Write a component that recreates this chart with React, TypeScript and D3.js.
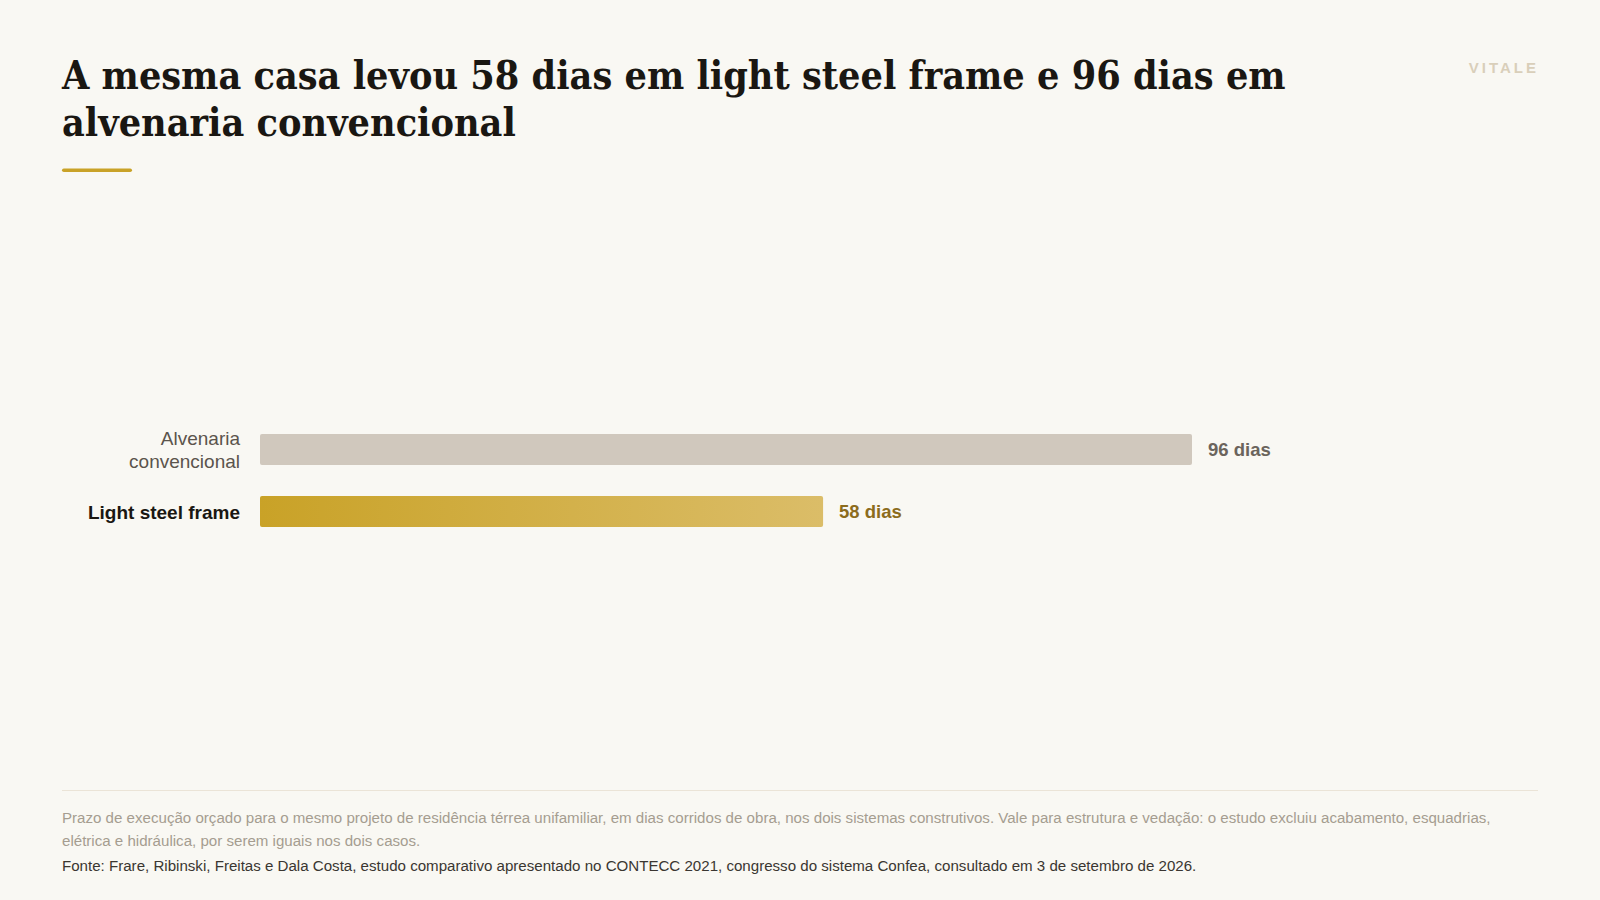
import React, { useRef, useEffect } from 'react';
import * as d3 from 'd3';

const categories = ['Alvenaria convencional', 'Light steel frame'];
const categoryLines: string[][] = [['Alvenaria', 'convencional'], ['Light steel frame']];
const days = [96, 58];
const valueLabels = ['96 dias', '58 dias'];

const titleLines = [
  'A mesma casa levou 58 dias em light steel frame e 96 dias em',
  'alvenaria convencional',
];
const noteLines = [
  'Prazo de execução orçado para o mesmo projeto de residência térrea unifamiliar, em dias corridos de obra, nos dois sistemas construtivos. Vale para estrutura e vedação: o estudo excluiu acabamento, esquadrias,',
  'elétrica e hidráulica, por serem iguais nos dois casos.',
];
const sourceLine =
  'Fonte: Frare, Ribinski, Freitas e Dala Costa, estudo comparativo apresentado no CONTECC 2021, congresso do sistema Confea, consultado em 3 de setembro de 2026.';

const WIDTH = 1600;
const HEIGHT = 900;
const BG = '#f9f8f3';
const SANS = '"Liberation Sans", Arial, Helvetica, sans-serif';
const SERIF = 'Georgia, "DejaVu Serif Condensed", "DejaVu Serif", serif';

const App: React.FC = () => {
  const svgRef = useRef<SVGSVGElement>(null);

  useEffect(() => {
    document.body.style.margin = '0';
    document.body.style.background = BG;
    if (!svgRef.current) return;

    const svg = d3.select(svgRef.current);
    svg.selectAll('*').remove();

    const left = 62;
    const right = 1538;

    svg.append('rect').attr('width', WIDTH).attr('height', HEIGHT).attr('fill', BG);

    // gradient for the highlighted bar
    const defs = svg.append('defs');
    const grad = defs
      .append('linearGradient')
      .attr('id', 'goldGrad')
      .attr('x1', '0%')
      .attr('x2', '100%')
      .attr('y1', '0%')
      .attr('y2', '0%');
    grad.append('stop').attr('offset', '0%').attr('stop-color', '#c9a227');
    grad.append('stop').attr('offset', '100%').attr('stop-color', '#dbbd68');

    // Title (fit the first line to the reference width, ~1224px)
    const title = svg
      .append('text')
      .attr('font-family', SERIF)
      .attr('font-weight', 700)
      .attr('font-size', 40)
      .attr('fill', '#1a1712');
    titleLines.forEach((line, i) => {
      title
        .append('tspan')
        .attr('x', left)
        .attr('y', 89 + i * 47)
        .text(line);
    });
    const firstLine = title.select<SVGTSpanElement>('tspan').node();
    if (firstLine) {
      const w = firstLine.getComputedTextLength();
      if (w > 0) title.attr('font-size', Math.min(41, (40 * 1224) / w));
    }

    svg
      .append('rect')
      .attr('x', left)
      .attr('y', 168.5)
      .attr('width', 70)
      .attr('height', 3.5)
      .attr('rx', 1.75)
      .attr('fill', '#c9a227');

    // brand mark
    svg
      .append('text')
      .attr('x', right + 1)
      .attr('y', 73)
      .attr('text-anchor', 'end')
      .attr('font-family', SANS)
      .attr('font-weight', 700)
      .attr('font-size', 15)
      .attr('letter-spacing', 3)
      .attr('fill', '#d9cfba')
      .text('VITALE');

    // Scales
    const xScale = d3.scaleLinear().domain([0, 96]).range([260, 1192]);
    const yScale = d3
      .scaleBand<string>()
      .domain(categories)
      .range([418.5, 542.5])
      .paddingInner(0.5)
      .paddingOuter(0.25);

    const g = svg.append('g');

    categories.forEach((cat, i) => {
      const y0 = yScale(cat)!;
      const bw = yScale.bandwidth();
      const cy = y0 + bw / 2;
      const highlight = i === 1;

      g.append('rect')
        .attr('x', xScale(0))
        .attr('y', y0)
        .attr('width', xScale(days[i]) - xScale(0))
        .attr('height', bw)
        .attr('rx', 2)
        .attr('fill', highlight ? 'url(#goldGrad)' : '#d0c8bd');

      g.append('text')
        .attr('x', xScale(days[i]) + 16)
        .attr('y', cy + 6.5)
        .attr('font-family', SANS)
        .attr('font-weight', 700)
        .attr('font-size', 18.5)
        .attr('fill', highlight ? '#8c6c1c' : '#6b645c')
        .text(valueLabels[i]);

      const lines = categoryLines[i];
      const lh = 23;
      const label = g
        .append('text')
        .attr('text-anchor', 'end')
        .attr('font-family', SANS)
        .attr('font-size', 19)
        .attr('font-weight', highlight ? 700 : 400)
        .attr('fill', highlight ? '#1a1712' : '#5b544c');
      lines.forEach((ln, j) => {
        label
          .append('tspan')
          .attr('x', 240)
          .attr('y', cy + 7 + (j - (lines.length - 1) / 2) * lh)
          .text(ln);
      });
    });

    // Footer
    svg
      .append('line')
      .attr('x1', left)
      .attr('x2', right)
      .attr('y1', 790.5)
      .attr('y2', 790.5)
      .attr('stroke', '#ebe4d7')
      .attr('stroke-width', 1);

    noteLines.forEach((ln, i) => {
      svg
        .append('text')
        .attr('x', left)
        .attr('y', 823 + i * 22.5)
        .attr('font-family', SANS)
        .attr('font-size', 15.1)
        .attr('fill', '#a59d90')
        .text(ln);
    });

    svg
      .append('text')
      .attr('x', left)
      .attr('y', 870.5)
      .attr('font-family', SANS)
      .attr('font-size', 15.1)
      .attr('fill', '#3a3631')
      .text(sourceLine);
  }, []);

  return (
    <div style={{ position: 'absolute', left: 0, top: 0, width: WIDTH, height: HEIGHT }}>
      <svg ref={svgRef} width={WIDTH} height={HEIGHT} style={{ display: 'block' }} />
    </div>
  );
};

export default App;
